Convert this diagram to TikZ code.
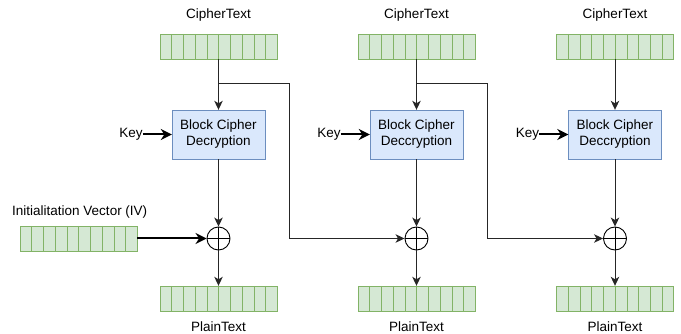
\documentclass[tikz,border=0pt]{standalone}
\usepackage{fontspec}
\setmainfont{Liberation Sans}
\usetikzlibrary{arrows.meta,positioning,calc}

\definecolor{cellfill}{HTML}{D5E8D4}
\definecolor{cellline}{HTML}{82B366}
\definecolor{boxfill}{HTML}{DAE8FC}
\definecolor{boxline}{HTML}{6C8EBF}

\begin{document}
\begin{tikzpicture}[
  x=1pt, y=-1pt,
  font=\fontsize{13.5}{16}\selectfont,
  lab/.style={inner sep=0pt},
  bar/.style={draw=cellline, fill=cellfill, minimum width=117pt, minimum height=25pt, inner sep=0pt},
  dec/.style={draw=boxline, fill=boxfill, minimum width=93pt, minimum height=49pt,
              align=center, inner sep=2pt},
  xor/.style={circle, draw, line width=0.9pt, minimum size=23pt, inner sep=0pt,
              path picture={\draw[line width=0.9pt]
                (path picture bounding box.north) -- (path picture bounding box.south)
                (path picture bounding box.west) -- (path picture bounding box.east);}},
  line/.style={line width=0.9pt, draw=black!85},
  arr/.style={line, -{Stealth[length=9pt, width=8.5pt, inset=2.5pt]}},
  karr/.style={line width=2pt, draw=black, -{Stealth[length=11pt, width=11pt, inset=3.5pt]}}
]
\useasboundingbox (0,0) rectangle (681,334);

% ================= Column 1 =================
\node[bar] (ct1) at (218.5,46.5) {};
\node[lab, above=12pt of ct1] (ctl1) {CipherText};
\node[dec] (dec1) at (218.5,134.5) {Block Cipher\\ Decryption};
\node[lab, left=29pt of dec1] (key1) {Key};
\node[xor] (x1) at (218.5,238.5) {};
\node[bar] (pt1) at (218.5,298.5) {};
\node[lab, below=10pt of pt1] (ptl1) {PlainText};

% IV
\node[bar] (iv) at (78.5,238.5) {};
\node[lab, anchor=south west] (ivl) at (12,218) {Initialitation Vector (IV)};

% ================= Column 2 =================
\node[bar] (ct2) at (416.5,46.5) {};
\node[lab, above=12pt of ct2] (ctl2) {CipherText};
\node[dec] (dec2) at (416.5,134.5) {Block Cipher\\ Deccryption};
\node[lab, left=29pt of dec2] (key2) {Key};
\node[xor] (x2) at (416.5,238.5) {};
\node[bar] (pt2) at (416.5,298.5) {};
\node[lab, below=10pt of pt2] (ptl2) {PlainText};

% ================= Column 3 =================
\node[bar] (ct3) at (615,46.5) {};
\node[lab, above=12pt of ct3] (ctl3) {CipherText};
\node[dec] (dec3) at (615,134.5) {Block Cipher\\ Deccryption};
\node[lab, left=29pt of dec3] (key3) {Key};
\node[xor] (x3) at (615,238.5) {};
\node[bar] (pt3) at (615,298.5) {};
\node[lab, below=10pt of pt3] (ptl3) {PlainText};

% cell borders
\foreach \b in {ct1,ct2,ct3,pt1,pt2,pt3,iv}
  \foreach \k in {1,...,9}
    \draw[cellline] ($(\b.north west)!\k/10!(\b.north east)$) -- ($(\b.south west)!\k/10!(\b.south east)$);

% ================= Connectors =================
\coordinate (fork1) at (218.5,83);
\coordinate (turn1) at (289,83);
\coordinate (fork2) at (416.5,83);
\coordinate (turn2) at (487,83);

\draw[arr] (ct1.south) -- (dec1.north);
\draw[arr] (dec1.south) -- (x1.north);
\draw[arr] (x1.south) -- (pt1.north);
\draw[karr] (key1.east) -- (dec1.west);
\draw[karr] (iv.east) -- (x1.west);
\draw[arr] (fork1) -- (turn1) |- (x2.west);

\draw[arr] (ct2.south) -- (dec2.north);
\draw[arr] (dec2.south) -- (x2.north);
\draw[arr] (x2.south) -- (pt2.north);
\draw[karr] (key2.east) -- (dec2.west);
\draw[arr] (fork2) -- (turn2) |- (x3.west);

\draw[arr] (ct3.south) -- (dec3.north);
\draw[arr] (dec3.south) -- (x3.north);
\draw[arr] (x3.south) -- (pt3.north);
\draw[karr] (key3.east) -- (dec3.west);

\end{tikzpicture}
\end{document}
